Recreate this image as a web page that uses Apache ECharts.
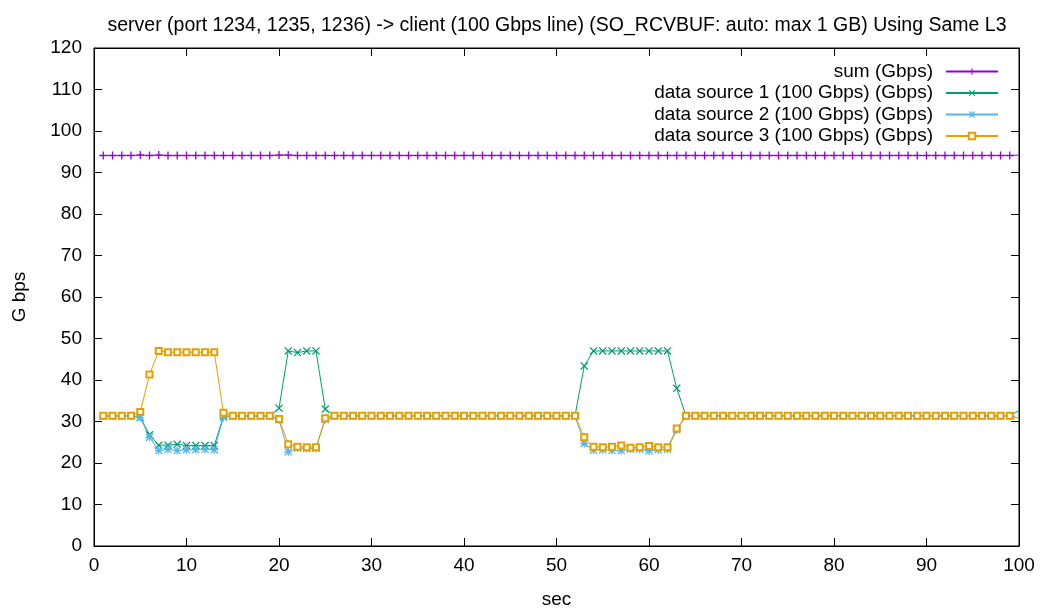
<!DOCTYPE html>
<html>
<head>
<meta charset="utf-8">
<title>server -> client throughput</title>
<script src="https://cdn.jsdelivr.net/npm/echarts@6/dist/echarts.min.js"></script>
<style>
  html, body { margin: 0; padding: 0; background: #fff; }
  #chart { width: 1044px; height: 612px; }
</style>
</head>
<body>
<div id="chart"></div>
<script>
// 横轴: 秒 1..100
const seconds = Array.from({ length: 100 }, (_, i) => i + 1)

// 各系列数值 (Gbps), 每行 10 个点
const sumGbps = [
  94.1, 94.1, 94.1, 94.1, 94.2, 94.1, 94.2, 94.1, 94.1, 94.1,
  94.1, 94.1, 94.1, 94.1, 94.1, 94.1, 94.1, 94.1, 94.1, 94.2,
  94.2, 94.1, 94.1, 94.1, 94.1, 94.1, 94.1, 94.1, 94.1, 94.1,
  94.1, 94.1, 94.1, 94.1, 94.1, 94.1, 94.1, 94.1, 94.1, 94.1,
  94.1, 94.1, 94.1, 94.1, 94.1, 94.1, 94.1, 94.1, 94.1, 94.1,
  94.1, 94.1, 94.1, 94.1, 94.1, 94.1, 94.1, 94.1, 94.1, 94.1,
  94.1, 94.1, 94.1, 94.1, 94.1, 94.1, 94.1, 94.1, 94.1, 94.1,
  94.1, 94.1, 94.1, 94.1, 94.1, 94.1, 94.1, 94.1, 94.1, 94.1,
  94.1, 94.1, 94.1, 94.1, 94.1, 94.1, 94.1, 94.1, 94.1, 94.1,
  94.1, 94.1, 94.1, 94.1, 94.1, 94.1, 94.1, 94.1, 94.1, 94.2
]
const source1 = [
  31.3, 31.3, 31.3, 31.3, 31.0, 26.8, 24.3, 24.3, 24.5, 24.2,
  24.2, 24.2, 24.2, 31.3, 31.3, 31.3, 31.3, 31.3, 31.3, 33.2,
  47.0, 46.6, 47.0, 47.0, 33.0, 31.4, 31.4, 31.4, 31.4, 31.4,
  31.4, 31.4, 31.4, 31.4, 31.4, 31.4, 31.4, 31.4, 31.4, 31.4,
  31.4, 31.4, 31.4, 31.4, 31.4, 31.4, 31.4, 31.4, 31.4, 31.4,
  31.4, 31.4, 43.4, 47.0, 47.0, 47.0, 47.0, 47.0, 47.0, 47.0,
  47.0, 47.0, 38.0, 31.4, 31.4, 31.4, 31.4, 31.4, 31.4, 31.4,
  31.4, 31.4, 31.4, 31.4, 31.4, 31.4, 31.4, 31.4, 31.4, 31.4,
  31.4, 31.4, 31.4, 31.4, 31.4, 31.4, 31.4, 31.4, 31.4, 31.4,
  31.4, 31.4, 31.4, 31.4, 31.4, 31.4, 31.4, 31.4, 31.4, 32.6
]
const source2 = [
  31.3, 31.3, 31.3, 31.3, 30.9, 26.2, 23.0, 23.3, 23.0, 23.2,
  23.2, 23.3, 23.2, 31.0, 31.3, 31.3, 31.3, 31.3, 31.3, 30.4,
  22.7, 23.6, 23.5, 23.5, 30.5, 31.3, 31.3, 31.3, 31.3, 31.3,
  31.3, 31.3, 31.3, 31.3, 31.3, 31.3, 31.3, 31.3, 31.3, 31.3,
  31.3, 31.3, 31.3, 31.3, 31.3, 31.3, 31.3, 31.3, 31.3, 31.3,
  31.3, 31.3, 24.7, 23.1, 23.2, 23.0, 23.0, 23.3, 23.3, 22.9,
  23.2, 23.3, 28.0, 31.3, 31.3, 31.3, 31.3, 31.3, 31.3, 31.3,
  31.3, 31.3, 31.3, 31.3, 31.3, 31.3, 31.3, 31.3, 31.3, 31.3,
  31.3, 31.3, 31.3, 31.3, 31.3, 31.3, 31.3, 31.3, 31.3, 31.3,
  31.3, 31.3, 31.3, 31.3, 31.3, 31.3, 31.3, 31.3, 31.3, 30.8
]
const source3 = [
  31.4, 31.4, 31.4, 31.4, 32.3, 41.3, 47.0, 46.7, 46.7, 46.7,
  46.7, 46.7, 46.7, 32.1, 31.4, 31.4, 31.4, 31.4, 31.4, 30.6,
  24.5, 23.9, 23.8, 23.8, 30.8, 31.4, 31.4, 31.4, 31.4, 31.4,
  31.4, 31.4, 31.4, 31.4, 31.4, 31.4, 31.4, 31.4, 31.4, 31.4,
  31.4, 31.4, 31.4, 31.4, 31.4, 31.4, 31.4, 31.4, 31.4, 31.4,
  31.4, 31.4, 26.2, 23.9, 23.8, 23.9, 24.2, 23.7, 23.8, 24.1,
  23.8, 23.8, 28.3, 31.4, 31.4, 31.4, 31.4, 31.4, 31.4, 31.4,
  31.4, 31.4, 31.4, 31.4, 31.4, 31.4, 31.4, 31.4, 31.4, 31.4,
  31.4, 31.4, 31.4, 31.4, 31.4, 31.4, 31.4, 31.4, 31.4, 31.4,
  31.4, 31.4, 31.4, 31.4, 31.4, 31.4, 31.4, 31.4, 31.4, 30.8
]

// gnuplot 风格的点形状
const plusSymbol = 'path://M4.2,0h1.6v10h-1.6zM0,4.2h10v1.6h-10z'
const crossSymbol = 'path://M0,1.1L1.1,0L10,8.9L8.9,10ZM8.9,0L10,1.1L1.1,10L0,8.9Z'
const starSymbol = plusSymbol + 'M0,1.1L1.1,0L10,8.9L8.9,10ZM8.9,0L10,1.1L1.1,10L0,8.9Z'

const font = 'Liberation Sans, Arial, sans-serif'
const fontSize = 19

// 组装 [x, y]; 落在右边框上的最后一个点不画标记 (与原图一致)
const pair = (arr) => seconds.map((x, i) =>
  x === 100 ? { value: [x, arr[i]], symbol: 'none' } : [x, arr[i]]
)

// 生成一个折线系列
function makeLine(name, data, color, symbol, hollow) {
  return {
    name: name,
    type: 'line',
    data: pair(data),
    symbol: symbol,
    symbolSize: hollow ? 6 : 8,
    showAllSymbol: true,
    animation: false,
    lineStyle: { color: color, width: 1 },
    itemStyle: { color: color, borderColor: color, borderWidth: hollow ? 1 : 0 },
    emphasis: { disabled: true }
  }
}

const myChart = echarts.init(document.getElementById('chart'))

const axisCommon = {
  type: 'value',
  axisLine: { show: true, onZero: false, lineStyle: { color: '#000', width: 1 } },
  axisTick: { show: true, inside: true, length: 8, lineStyle: { color: '#000' } },
  splitLine: { show: false }
}

const option = {
  backgroundColor: '#fff',
  animation: false,
  title: {
    text: 'server (port 1234, 1235, 1236) -> client (100 Gbps line) (SO_RCVBUF: auto: max 1 GB) Using Same L3',
    left: 552,
    textAlign: 'center',
    top: 11,
    textStyle: { fontFamily: font, fontSize: 19.5, fontWeight: 'normal', color: '#000' }
  },
  legend: {
    orient: 'vertical',
    right: 40,
    top: 57,
    align: 'right',
    itemWidth: 52,
    itemHeight: 8,
    itemGap: 2.5,
    textStyle: { fontFamily: font, fontSize: fontSize, color: '#000', padding: [0, 8, 0, 0] },
    data: ['sum (Gbps)', 'data source 1 (100 Gbps) (Gbps)', 'data source 2 (100 Gbps) (Gbps)', 'data source 3 (100 Gbps) (Gbps)']
  },
  // 固定绘图区, 不让 v6 自动收缩
  grid: {
    left: 94, right: 25, top: 48, bottom: 66,
    outerBoundsMode: 'none',
    show: true, borderColor: '#000', borderWidth: 1
  },
  xAxis: [
    {
      ...axisCommon,
      position: 'bottom',
      min: 0, max: 100, interval: 10,
      name: 'sec',
      nameLocation: 'middle',
      nameGap: 44,
      nameTextStyle: { fontFamily: font, fontSize: fontSize, color: '#000' },
      axisLabel: { fontFamily: font, fontSize: fontSize, color: '#000', margin: 10 }
    },
    {
      ...axisCommon,
      position: 'top',
      min: 0, max: 100, interval: 10,
      axisLabel: { show: false }
    }
  ],
  yAxis: [
    {
      ...axisCommon,
      position: 'left',
      min: 0, max: 120, interval: 10,
      name: 'G bps',
      nameLocation: 'middle',
      nameGap: 65,
      nameRotate: 90,
      nameTextStyle: { fontFamily: font, fontSize: fontSize, color: '#000' },
      axisLabel: { fontFamily: font, fontSize: fontSize, color: '#000', margin: 12 }
    },
    {
      ...axisCommon,
      position: 'right',
      min: 0, max: 120, interval: 10,
      axisLabel: { show: false }
    }
  ],
  series: [
    makeLine('sum (Gbps)', sumGbps, '#9400d3', plusSymbol, false),
    makeLine('data source 1 (100 Gbps) (Gbps)', source1, '#009e73', crossSymbol, false),
    makeLine('data source 2 (100 Gbps) (Gbps)', source2, '#56b4e9', starSymbol, false),
    makeLine('data source 3 (100 Gbps) (Gbps)', source3, '#e69f00', 'emptyRect', true)
  ]
}

option && myChart.setOption(option)
</script>
</body>
</html>
